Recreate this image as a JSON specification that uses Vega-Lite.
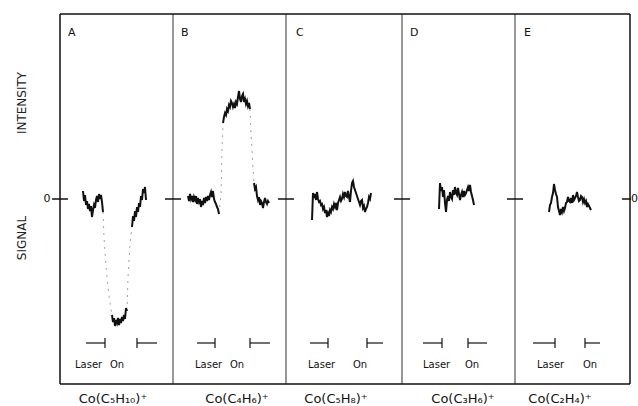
{
  "$schema": "https://vega.github.io/schema/vega-lite/v6.json",
  "width": 570,
  "height": 370,
  "autosize": "none",
  "padding": {"left": 60, "top": 14, "right": 8, "bottom": 22},
  "background": "white",
  "config": {"view": {"stroke": null}, "font": "DejaVu Sans"},
  "datasets": {
    "trace": [
      {"s":"A1","x":23,"y":8},{"s":"A1","x":24,"y":-2},{"s":"A1","x":25,"y":4},{"s":"A1","x":26,"y":-6},{"s":"A1","x":27,"y":-2},{"s":"A1","x":28,"y":-10},{"s":"A1","x":29,"y":-5},{"s":"A1","x":30,"y":-12},{"s":"A1","x":31,"y":-7},{"s":"A1","x":32,"y":-18},{"s":"A1","x":33,"y":-11},{"s":"A1","x":34,"y":-6},{"s":"A1","x":35,"y":-9},{"s":"A1","x":36,"y":-1},{"s":"A1","x":37,"y":3},{"s":"A1","x":38,"y":-3},{"s":"A1","x":39,"y":5},{"s":"A1","x":40,"y":0},{"s":"A1","x":41,"y":4},{"s":"A1","x":42,"y":-3},{"s":"A1","x":43,"y":-13},
      {"s":"A3","x":52,"y":-116},{"s":"A3","x":53,"y":-123},{"s":"A3","x":54,"y":-119},{"s":"A3","x":55,"y":-127},{"s":"A3","x":56,"y":-121},{"s":"A3","x":57,"y":-124},{"s":"A3","x":58,"y":-119},{"s":"A3","x":59,"y":-126},{"s":"A3","x":60,"y":-120},{"s":"A3","x":61,"y":-124},{"s":"A3","x":62,"y":-118},{"s":"A3","x":63,"y":-122},{"s":"A3","x":64,"y":-116},{"s":"A3","x":65,"y":-120},{"s":"A3","x":66,"y":-109},{"s":"A3","x":67,"y":-112},
      {"s":"A5","x":72,"y":-28},{"s":"A5","x":73,"y":-17},{"s":"A5","x":74,"y":-22},{"s":"A5","x":75,"y":-12},{"s":"A5","x":76,"y":-18},{"s":"A5","x":77,"y":-8},{"s":"A5","x":78,"y":-13},{"s":"A5","x":79,"y":-4},{"s":"A5","x":80,"y":-8},{"s":"A5","x":81,"y":3},{"s":"A5","x":82,"y":-1},{"s":"A5","x":83,"y":10},{"s":"A5","x":84,"y":6},{"s":"A5","x":85,"y":12},{"s":"A5","x":86,"y":-1},
      {"s":"B1","x":128,"y":3},{"s":"B1","x":129,"y":-2},{"s":"B1","x":130,"y":5},{"s":"B1","x":131,"y":0},{"s":"B1","x":132,"y":3},{"s":"B1","x":133,"y":-3},{"s":"B1","x":134,"y":2},{"s":"B1","x":135,"y":-1},{"s":"B1","x":136,"y":3},{"s":"B1","x":137,"y":-5},{"s":"B1","x":138,"y":1},{"s":"B1","x":139,"y":-3},{"s":"B1","x":140,"y":0},{"s":"B1","x":141,"y":-8},{"s":"B1","x":142,"y":-2},{"s":"B1","x":143,"y":-6},{"s":"B1","x":144,"y":1},{"s":"B1","x":145,"y":-4},{"s":"B1","x":146,"y":2},{"s":"B1","x":147,"y":-2},{"s":"B1","x":148,"y":3},{"s":"B1","x":149,"y":-1},{"s":"B1","x":150,"y":4},{"s":"B1","x":151,"y":7},{"s":"B1","x":152,"y":2},{"s":"B1","x":153,"y":8},{"s":"B1","x":154,"y":0},{"s":"B1","x":155,"y":-3},{"s":"B1","x":156,"y":-5},{"s":"B1","x":157,"y":-8},{"s":"B1","x":158,"y":-10},{"s":"B1","x":159,"y":-15},
      {"s":"B3","x":163,"y":76},{"s":"B3","x":164,"y":82},{"s":"B3","x":165,"y":86},{"s":"B3","x":166,"y":84},{"s":"B3","x":167,"y":90},{"s":"B3","x":168,"y":88},{"s":"B3","x":169,"y":94},{"s":"B3","x":170,"y":92},{"s":"B3","x":171,"y":98},{"s":"B3","x":172,"y":96},{"s":"B3","x":173,"y":92},{"s":"B3","x":174,"y":95},{"s":"B3","x":175,"y":91},{"s":"B3","x":176,"y":97},{"s":"B3","x":177,"y":95},{"s":"B3","x":178,"y":102},{"s":"B3","x":179,"y":108},{"s":"B3","x":180,"y":100},{"s":"B3","x":181,"y":97},{"s":"B3","x":182,"y":103},{"s":"B3","x":183,"y":105},{"s":"B3","x":184,"y":97},{"s":"B3","x":185,"y":100},{"s":"B3","x":186,"y":95},{"s":"B3","x":187,"y":98},{"s":"B3","x":188,"y":93},{"s":"B3","x":189,"y":96},{"s":"B3","x":190,"y":90},
      {"s":"B5","x":194,"y":16},{"s":"B5","x":195,"y":10},{"s":"B5","x":196,"y":12},{"s":"B5","x":197,"y":3},{"s":"B5","x":198,"y":-1},{"s":"B5","x":199,"y":2},{"s":"B5","x":200,"y":-6},{"s":"B5","x":201,"y":-2},{"s":"B5","x":202,"y":-4},{"s":"B5","x":203,"y":-9},{"s":"B5","x":204,"y":-3},{"s":"B5","x":205,"y":1},{"s":"B5","x":206,"y":-3},{"s":"B5","x":207,"y":-5},{"s":"B5","x":208,"y":-2},{"s":"B5","x":209,"y":-4},
      {"s":"C1","x":252,"y":-21},{"s":"C1","x":253,"y":6},{"s":"C1","x":254,"y":1},{"s":"C1","x":255,"y":5},{"s":"C1","x":256,"y":-1},{"s":"C1","x":257,"y":7},{"s":"C1","x":258,"y":0},{"s":"C1","x":259,"y":-3},{"s":"C1","x":260,"y":-2},{"s":"C1","x":261,"y":-6},{"s":"C1","x":262,"y":-5},{"s":"C1","x":263,"y":-10},{"s":"C1","x":264,"y":-8},{"s":"C1","x":265,"y":-14},{"s":"C1","x":266,"y":-11},{"s":"C1","x":267,"y":-18},{"s":"C1","x":268,"y":-14},{"s":"C1","x":269,"y":-17},{"s":"C1","x":270,"y":-11},{"s":"C1","x":271,"y":-13},{"s":"C1","x":272,"y":-8},{"s":"C1","x":273,"y":-10},{"s":"C1","x":274,"y":-5},{"s":"C1","x":275,"y":-8},{"s":"C1","x":276,"y":-4},{"s":"C1","x":277,"y":-11},{"s":"C1","x":278,"y":-4},{"s":"C1","x":279,"y":-1},{"s":"C1","x":280,"y":2},{"s":"C1","x":281,"y":-2},{"s":"C1","x":282,"y":0},{"s":"C1","x":283,"y":5},{"s":"C1","x":284,"y":2},{"s":"C1","x":285,"y":7},{"s":"C1","x":286,"y":3},{"s":"C1","x":287,"y":2},{"s":"C1","x":288,"y":8},{"s":"C1","x":289,"y":2},{"s":"C1","x":290,"y":-3},{"s":"C1","x":291,"y":8},{"s":"C1","x":292,"y":16},{"s":"C1","x":293,"y":18},{"s":"C1","x":294,"y":12},{"s":"C1","x":295,"y":9},{"s":"C1","x":296,"y":6},{"s":"C1","x":297,"y":3},{"s":"C1","x":298,"y":0},{"s":"C1","x":299,"y":-3},{"s":"C1","x":300,"y":-6},{"s":"C1","x":301,"y":-2},{"s":"C1","x":302,"y":-1},{"s":"C1","x":303,"y":-9},{"s":"C1","x":304,"y":-7},{"s":"C1","x":305,"y":-13},{"s":"C1","x":306,"y":-10},{"s":"C1","x":307,"y":-8},{"s":"C1","x":308,"y":-4},{"s":"C1","x":309,"y":2},{"s":"C1","x":310,"y":0},{"s":"C1","x":311,"y":6},
      {"s":"D1","x":379,"y":-10},{"s":"D1","x":380,"y":16},{"s":"D1","x":381,"y":8},{"s":"D1","x":382,"y":12},{"s":"D1","x":383,"y":2},{"s":"D1","x":384,"y":9},{"s":"D1","x":385,"y":-4},{"s":"D1","x":386,"y":-13},{"s":"D1","x":387,"y":-1},{"s":"D1","x":388,"y":3},{"s":"D1","x":389,"y":-2},{"s":"D1","x":390,"y":7},{"s":"D1","x":391,"y":2},{"s":"D1","x":392,"y":0},{"s":"D1","x":393,"y":9},{"s":"D1","x":394,"y":4},{"s":"D1","x":395,"y":12},{"s":"D1","x":396,"y":6},{"s":"D1","x":397,"y":4},{"s":"D1","x":398,"y":11},{"s":"D1","x":399,"y":5},{"s":"D1","x":400,"y":-1},{"s":"D1","x":401,"y":4},{"s":"D1","x":402,"y":7},{"s":"D1","x":403,"y":2},{"s":"D1","x":404,"y":8},{"s":"D1","x":405,"y":4},{"s":"D1","x":406,"y":6},{"s":"D1","x":407,"y":9},{"s":"D1","x":408,"y":12},{"s":"D1","x":409,"y":8},{"s":"D1","x":410,"y":14},{"s":"D1","x":411,"y":7},{"s":"D1","x":412,"y":3},{"s":"D1","x":413,"y":-1},{"s":"D1","x":414,"y":-6},
      {"s":"E1","x":489,"y":-13},{"s":"E1","x":490,"y":-6},{"s":"E1","x":491,"y":-4},{"s":"E1","x":492,"y":2},{"s":"E1","x":493,"y":6},{"s":"E1","x":494,"y":15},{"s":"E1","x":495,"y":9},{"s":"E1","x":496,"y":5},{"s":"E1","x":497,"y":2},{"s":"E1","x":498,"y":-8},{"s":"E1","x":499,"y":-12},{"s":"E1","x":500,"y":-16},{"s":"E1","x":501,"y":-10},{"s":"E1","x":502,"y":-13},{"s":"E1","x":503,"y":-8},{"s":"E1","x":504,"y":-12},{"s":"E1","x":505,"y":-9},{"s":"E1","x":506,"y":-4},{"s":"E1","x":507,"y":-3},{"s":"E1","x":508,"y":2},{"s":"E1","x":509,"y":-2},{"s":"E1","x":510,"y":-3},{"s":"E1","x":511,"y":1},{"s":"E1","x":512,"y":-4},{"s":"E1","x":513,"y":4},{"s":"E1","x":514,"y":-1},{"s":"E1","x":515,"y":1},{"s":"E1","x":516,"y":3},{"s":"E1","x":517,"y":7},{"s":"E1","x":518,"y":2},{"s":"E1","x":519,"y":-2},{"s":"E1","x":520,"y":-1},{"s":"E1","x":521,"y":3},{"s":"E1","x":522,"y":2},{"s":"E1","x":523,"y":-3},{"s":"E1","x":524,"y":0},{"s":"E1","x":525,"y":-4},{"s":"E1","x":526,"y":-2},{"s":"E1","x":527,"y":-8},{"s":"E1","x":528,"y":-5},{"s":"E1","x":529,"y":-7},{"s":"E1","x":530,"y":-9},{"s":"E1","x":531,"y":-11}
    ],
    "jump": [
      {"s":"A2","x":43,"y":-13},{"s":"A2","x":44,"y":-38},{"s":"A2","x":46,"y":-68},{"s":"A2","x":48,"y":-88},{"s":"A2","x":50,"y":-104},{"s":"A2","x":52,"y":-116},
      {"s":"A4","x":67,"y":-112},{"s":"A4","x":68,"y":-78},{"s":"A4","x":70,"y":-45},{"s":"A4","x":72,"y":-28},
      {"s":"B2","x":159,"y":-15},{"s":"B2","x":161,"y":4},{"s":"B2","x":162,"y":50},{"s":"B2","x":163,"y":76},
      {"s":"B4","x":190,"y":90},{"s":"B4","x":191,"y":64},{"s":"B4","x":192,"y":50},{"s":"B4","x":193,"y":30},{"s":"B4","x":194,"y":16}
    ],
    "panels": [
      {"letter":"A","lx":8,"label":"Co(C₅H₁₀)⁺","cx":53,"l1":26,"l2":45,"r1":77,"r2":97,"tx":15,"ox":50},
      {"letter":"B","lx":121,"label":"Co(C₄H₆)⁺","cx":177,"l1":137,"l2":155,"r1":190,"r2":210,"tx":135,"ox":170},
      {"letter":"C","lx":236,"label":"Co(C₅H₈)⁺","cx":276,"l1":250,"l2":268,"r1":307,"r2":323,"tx":248,"ox":293},
      {"letter":"D","lx":350,"label":"Co(C₃H₆)⁺","cx":403,"l1":363,"l2":382,"r1":408,"r2":427,"tx":363,"ox":405},
      {"letter":"E","lx":464,"label":"Co(C₂H₄)⁺","cx":500,"l1":473,"l2":495,"r1":525,"r2":540,"tx":477,"ox":523}
    ],
    "borders": [{"b":0,"w":"outer"},{"b":113,"w":"inner"},{"b":226,"w":"inner"},{"b":342,"w":"inner"},{"b":455,"w":"inner"},{"b":570,"w":"outer"}]
  },
  "layer": [
    {
      "data": {"name": "borders"},
      "transform": [{"filter": "datum.w == 'inner'"}],
      "mark": {"type": "rule", "color": "#444", "strokeWidth": 1.1},
      "encoding": {
        "x": {"field": "b", "type": "quantitative", "scale": {"domain": [0, 570], "nice": false, "zero": false}, "axis": null},
        "y": {"datum": -185, "type": "quantitative", "scale": {"domain": [-185, 185], "nice": false, "zero": false}, "axis": null},
        "y2": {"datum": 185}
      }
    },
    {
      "data": {"name": "borders"},
      "transform": [{"filter": "datum.w == 'outer'"}],
      "mark": {"type": "rule", "color": "#111", "strokeWidth": 1.5},
      "encoding": {
        "x": {"field": "b", "type": "quantitative"},
        "y": {"datum": -185, "type": "quantitative"},
        "y2": {"datum": 185}
      }
    },
    {
      "data": {"name": "borders"},
      "transform": [{"calculate": "datum.b - 8", "as": "lo"}, {"calculate": "min(datum.b + 8, 571)", "as": "hi"}],
      "mark": {"type": "rule", "color": "#111", "strokeWidth": 1.5},
      "encoding": {
        "x": {"field": "lo", "type": "quantitative"},
        "x2": {"field": "hi"},
        "y": {"datum": 0, "type": "quantitative"}
      }
    },
    {
      "data": {"values": [{"yy": 185}, {"yy": -185}]},
      "mark": {"type": "rule", "color": "#111", "strokeWidth": 1.6},
      "encoding": {
        "x": {"datum": 0, "type": "quantitative"},
        "x2": {"datum": 570},
        "y": {"field": "yy", "type": "quantitative"}
      }
    },
    {
      "data": {"name": "jump"},
      "mark": {"type": "line", "color": "#888", "strokeWidth": 0.8, "strokeDash": [2, 5]},
      "encoding": {
        "x": {"field": "x", "type": "quantitative"},
        "y": {"field": "y", "type": "quantitative"},
        "detail": {"field": "s"}
      }
    },
    {
      "data": {"name": "trace"},
      "mark": {"type": "line", "color": "#111", "strokeWidth": 2, "strokeJoin": "miter"},
      "encoding": {
        "x": {"field": "x", "type": "quantitative"},
        "y": {"field": "y", "type": "quantitative"},
        "detail": {"field": "s"}
      }
    },
    {
      "data": {"name": "panels"},
      "mark": {"type": "rule", "color": "#111", "strokeWidth": 1.2},
      "encoding": {"x": {"field": "l1", "type": "quantitative"}, "x2": {"field": "l2"}, "y": {"datum": -144, "type": "quantitative"}}
    },
    {
      "data": {"name": "panels"},
      "mark": {"type": "rule", "color": "#111", "strokeWidth": 1.2},
      "encoding": {"x": {"field": "r1", "type": "quantitative"}, "x2": {"field": "r2"}, "y": {"datum": -144, "type": "quantitative"}}
    },
    {
      "data": {"name": "panels"},
      "mark": {"type": "rule", "color": "#111", "strokeWidth": 1.2},
      "encoding": {"x": {"field": "l2", "type": "quantitative"}, "y": {"datum": -149, "type": "quantitative"}, "y2": {"datum": -139}}
    },
    {
      "data": {"name": "panels"},
      "mark": {"type": "rule", "color": "#111", "strokeWidth": 1.2},
      "encoding": {"x": {"field": "r1", "type": "quantitative"}, "y": {"datum": -149, "type": "quantitative"}, "y2": {"datum": -139}}
    },
    {
      "data": {"name": "panels"},
      "mark": {"type": "text", "align": "left", "baseline": "middle", "fontSize": 10, "color": "#111"},
      "encoding": {"x": {"field": "tx", "type": "quantitative"}, "y": {"datum": -166, "type": "quantitative"}, "text": {"value": "Laser"}}
    },
    {
      "data": {"name": "panels"},
      "mark": {"type": "text", "align": "left", "baseline": "middle", "fontSize": 10, "color": "#111"},
      "encoding": {"x": {"field": "ox", "type": "quantitative"}, "y": {"datum": -166, "type": "quantitative"}, "text": {"value": "On"}}
    },
    {
      "data": {"name": "panels"},
      "mark": {"type": "text", "align": "left", "baseline": "middle", "fontSize": 11, "color": "#111"},
      "encoding": {"x": {"field": "lx", "type": "quantitative"}, "y": {"datum": 166, "type": "quantitative"}, "text": {"field": "letter"}}
    },
    {
      "data": {"name": "panels"},
      "mark": {"type": "text", "align": "center", "baseline": "middle", "fontSize": 13, "color": "#111", "clip": false},
      "encoding": {"x": {"field": "cx", "type": "quantitative"}, "y": {"datum": -200, "type": "quantitative"}, "text": {"field": "label"}}
    },
    {
      "data": {"values": [{"t": "0", "x": -13}, {"t": "0", "x": 574.5}]},
      "mark": {"type": "text", "align": "center", "baseline": "middle", "fontSize": 11, "color": "#111"},
      "encoding": {"x": {"field": "x", "type": "quantitative"}, "y": {"datum": 0, "type": "quantitative"}, "text": {"field": "t"}}
    },
    {
      "data": {"values": [{"t": "SIGNAL", "y": -39}, {"t": "INTENSITY", "y": 96}]},
      "mark": {"type": "text", "align": "center", "baseline": "middle", "angle": 270, "fontSize": 12, "color": "#222"},
      "encoding": {"x": {"datum": -38, "type": "quantitative"}, "y": {"field": "y", "type": "quantitative"}, "text": {"field": "t"}}
    }
  ]
}
